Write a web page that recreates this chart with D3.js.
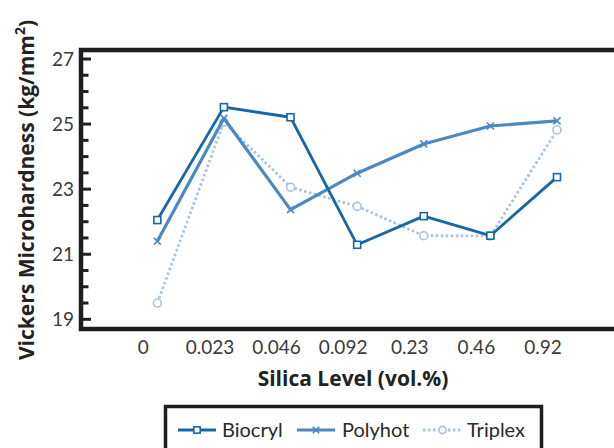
<!DOCTYPE html>
<html><head><meta charset="utf-8">
<script src="https://cdn.jsdelivr.net/npm/d3@7"></script>
<style>body{margin:0;background:#fff;} svg{display:block;}</style>
</head><body>
<svg id="c" width="614" height="448"></svg>
<script>
const categories = ["0","0.023","0.046","0.092","0.23","0.46","0.92"];
const biocryl = [22.05, 25.52, 25.21, 21.29, 22.17, 21.57, 23.37];
const polyhot = [21.4, 25.18, 22.37, 23.49, 24.39, 24.94, 25.1];
const triplex = [19.5, 25.06, 23.06, 22.47, 21.57, 21.56, 24.82];
const yTicks = [19, 21, 23, 25, 27];
const seriesNames = ["Biocryl", "Polyhot", "Triplex"];

const colors = {Biocryl:"#1667a8", Polyhot:"#4a89c2", Triplex:"#a6c3e6"};
const svg = d3.select("#c");

const x = d3.scalePoint().domain(categories).range([157.3, 557]);
const y = d3.scaleLinear().domain([19, 27]).range([319.3, 59]);

const frameL = 81, frameT = 50, frameB = 329, frameR = 660;
const font = "Lato, 'Open Sans', sans-serif";
const titleFont = "'Open Sans', Lato, sans-serif";

// frame
svg.append("rect").attr("x", frameL).attr("y", frameT)
  .attr("width", frameR - frameL).attr("height", frameB - frameT)
  .attr("fill", "none").attr("stroke", "#1e1e1e").attr("stroke-width", 4.5);

// minor + major ticks
const allTicks = d3.range(19, 27.01, 0.5);
svg.append("g").selectAll("line").data(allTicks).join("line")
  .attr("x1", frameL).attr("x2", d => frameL + (d % 2 === 1 ? 10 : 7.5))
  .attr("y1", d => y(d)).attr("y2", d => y(d))
  .attr("stroke", "#1e1e1e").attr("stroke-width", 3);

// y tick labels
svg.append("g").selectAll("text").data(yTicks).join("text")
  .attr("x", 74).attr("y", d => y(d)).attr("dy", "0.36em")
  .attr("text-anchor", "end").attr("font-family", font).attr("font-size", 19)
  .attr("fill", "#3a3a3a").text(d => d);

// x tick labels
svg.append("g").selectAll("text").data(categories).join("text")
  .attr("x", d => x(d) - 14).attr("y", 354)
  .attr("text-anchor", "middle").attr("font-family", font).attr("font-size", 19)
  .attr("fill", "#3a3a3a").text(d => d);

// axis titles
svg.append("text").attr("x", 353).attr("y", 386).attr("text-anchor", "middle")
  .attr("font-family", titleFont).attr("font-weight", "bold").attr("font-size", 21)
  .attr("fill", "#222").text("Silica Level (vol.%)");

const yt = svg.append("text").attr("transform", "translate(34,190) rotate(-90)")
  .attr("text-anchor", "middle").attr("font-family", titleFont).attr("font-weight", "bold")
  .attr("font-size", 21).attr("fill", "#222");
yt.append("tspan").text("Vickers Microhardness (kg/mm");
yt.append("tspan").attr("dy", -9).attr("font-size", 14).text("2");
yt.append("tspan").attr("dy", 9).text(")");

// series
const data = {Biocryl: biocryl, Polyhot: polyhot, Triplex: triplex};
const styles = {
  Biocryl: {w: 2.8, dash: null},
  Polyhot: {w: 3.2, dash: null},
  Triplex: {w: 2.8, dash: "2.5,2.5"}
};
const line = d3.line().x((d, i) => x(categories[i])).y(d => y(d));

function marker(g, name, cx, cy, scale) {
  const c = colors[name];
  if (name === "Biocryl") {
    const s = 7 * scale;
    g.append("rect").attr("x", cx - s/2).attr("y", cy - s/2).attr("width", s).attr("height", s)
      .attr("fill", "#fff").attr("stroke", c).attr("stroke-width", 1.6);
  } else if (name === "Polyhot") {
    const s = 3.5 * scale;
    g.append("path").attr("d", `M${cx-s},${cy-s}L${cx+s},${cy+s}M${cx-s},${cy+s}L${cx+s},${cy-s}`)
      .attr("stroke", c).attr("stroke-width", 1.6);
  } else {
    g.append("circle").attr("cx", cx).attr("cy", cy).attr("r", 4 * scale)
      .attr("fill", "#fff").attr("stroke", c).attr("stroke-width", 1.6);
  }
}

["Triplex", "Polyhot", "Biocryl"].forEach(name => {
  const g = svg.append("g");
  g.append("path").datum(data[name]).attr("d", line).attr("fill", "none")
    .attr("stroke", colors[name]).attr("stroke-width", styles[name].w)
    .attr("stroke-dasharray", styles[name].dash).attr("stroke-linejoin", "round");
  data[name].forEach((v, i) => marker(g, name, x(categories[i]), y(v), 1));
});

// legend
svg.append("rect").attr("x", 165.5).attr("y", 406.5).attr("width", 376).attr("height", 60)
  .attr("fill", "#fff").attr("stroke", "#1e1e1e").attr("stroke-width", 3.5);
const legX = {Biocryl: [178, 216, 222], Polyhot: [297, 335, 342], Triplex: [423, 462, 467]};
seriesNames.forEach(name => {
  const [a, b, t] = legX[name];
  const g = svg.append("g");
  g.append("line").attr("x1", a).attr("x2", b).attr("y1", 430).attr("y2", 430)
    .attr("stroke", colors[name]).attr("stroke-width", styles[name].w)
    .attr("stroke-dasharray", styles[name].dash);
  marker(g, name, (a + b) / 2, 430, 0.9);
  g.append("text").attr("x", t).attr("y", 430).attr("dy", "0.36em")
    .attr("font-family", font).attr("font-size", 20).attr("fill", "#2a2a2a").text(name);
});
</script>
</body></html>
